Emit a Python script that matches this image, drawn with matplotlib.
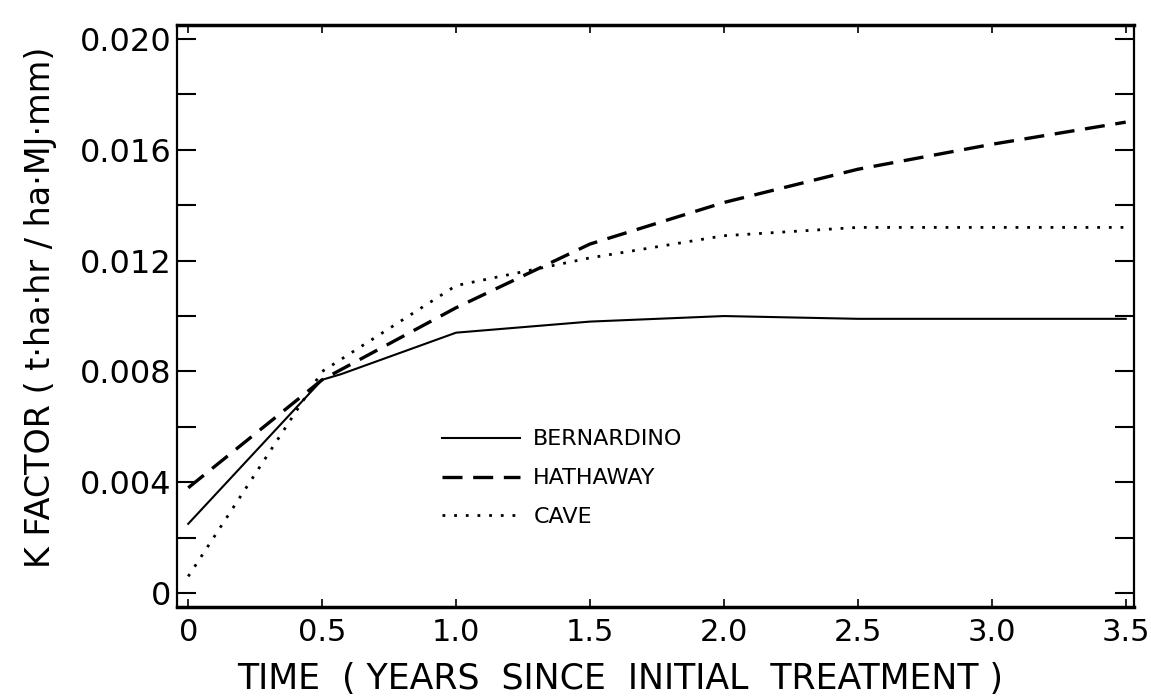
import numpy as np
import matplotlib.pyplot as plt
from matplotlib.ticker import MultipleLocator

# values
years = [0.0, 0.5, 0.57, 1.0, 1.5, 2.0, 2.5, 3.0, 3.5]
bernardino = [0.0025, 0.0077, 0.0079, 0.0094, 0.0098, 0.0100, 0.0099, 0.0099, 0.0099]

hathaway_years = [0.0, 0.5, 1.0, 1.5, 2.0, 2.5, 3.0, 3.5]
hathaway = [0.0038, 0.0077, 0.0103, 0.0126, 0.0141, 0.0153, 0.0162, 0.0170]

cave_years = [0.0, 0.5, 1.0, 1.5, 2.0, 2.5, 3.0, 3.5]
cave = [0.0006, 0.0080, 0.0111, 0.0121, 0.0129, 0.0132, 0.0132, 0.0132]

x_ticks = [0, 0.5, 1.0, 1.5, 2.0, 2.5, 3.0, 3.5]
x_labels = ["0", "0.5", "1.0", "1.5", "2.0", "2.5", "3.0", "3.5"]
y_ticks = [0, 0.004, 0.008, 0.012, 0.016, 0.020]
y_labels = ["0", "0.004", "0.008", "0.012", "0.016", "0.020"]

plt.rcParams["font.family"] = ["DejaVu Sans"]

fig = plt.figure(figsize=(11.51, 7.0), dpi=100)
ax = fig.add_axes([0.154, 0.133, 0.831, 0.831])

ax.plot(years, bernardino, color="black", linewidth=1.5, label="BERNARDINO")
ax.plot(hathaway_years, hathaway, color="black", linewidth=2.4,
        dashes=(6, 3.2), label="HATHAWAY")
ax.plot(cave_years, cave, color="black", linewidth=2.0,
        dashes=(1, 3.2), label="CAVE")

ax.set_xlim(-0.041, 3.53)
ax.set_ylim(-0.0005, 0.0205)

ax.set_xticks(x_ticks)
ax.set_xticklabels(x_labels)
ax.set_yticks(y_ticks)
ax.set_yticklabels(y_labels)
ax.yaxis.set_minor_locator(MultipleLocator(0.002))

ax.tick_params(axis="y", which="both", direction="in", length=14, width=1.5,
               right=True, labelsize=23, pad=4)
ax.tick_params(axis="x", which="both", direction="in", length=6, width=1.2,
               top=True, labelsize=22, pad=8)

for side in ["top", "bottom"]:
    ax.spines[side].set_linewidth(2.5)
for side in ["left", "right"]:
    ax.spines[side].set_linewidth(1.6)

ax.set_xlabel("TIME  ( YEARS  SINCE  INITIAL  TREATMENT )", fontsize=25)
ax.xaxis.set_label_coords(0.463, -0.094)
ax.set_ylabel("K FACTOR ( t·ha·hr / ha·MJ·mm)", fontsize=24)
ax.yaxis.set_label_coords(-0.126, 0.515)

ax.legend(loc="upper left", bbox_to_anchor=(0.277, 0.305), frameon=False,
          borderaxespad=0, borderpad=0,
          fontsize=16, handlelength=3.5, handletextpad=0.6, labelspacing=0.85)

fig.savefig("out.png", dpi=100)
plt.close(fig)
